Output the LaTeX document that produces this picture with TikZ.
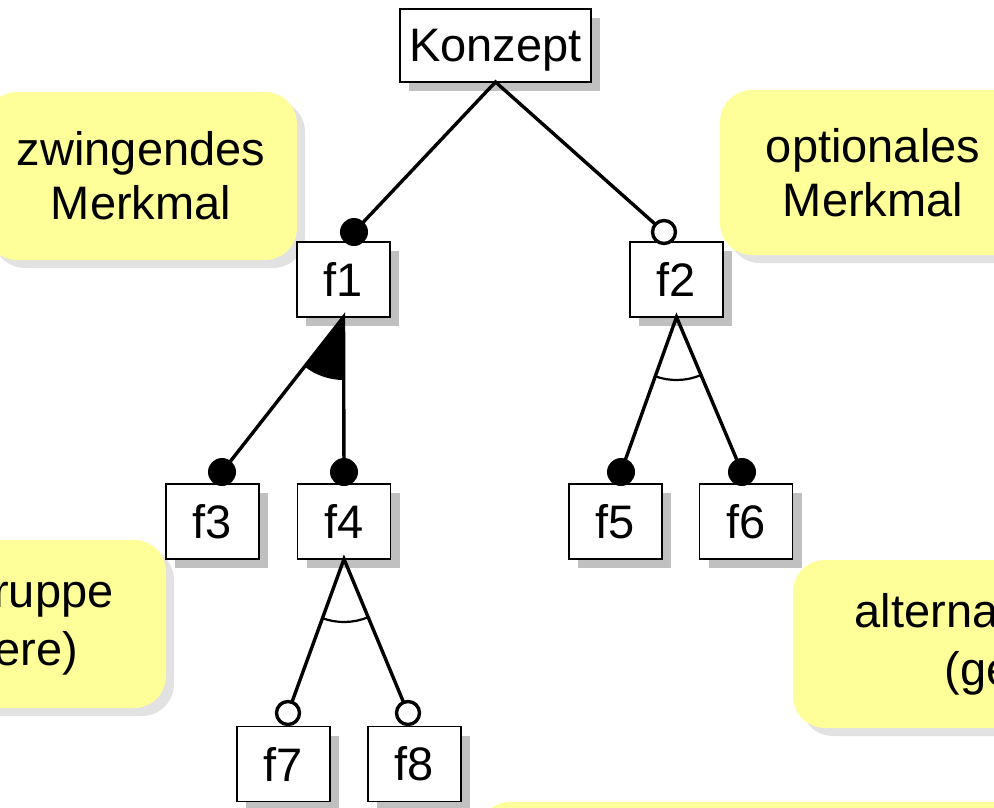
\documentclass[tikz,border=0pt]{standalone}
\usepackage{fontspec}
\setmainfont{Liberation Sans}
\usetikzlibrary{shadows,calc}
\definecolor{notefill}{HTML}{FFFF99}
\definecolor{noteshade}{HTML}{E2E2E2}
\definecolor{boxshade}{HTML}{C0C0C0}

\begin{document}
\begin{tikzpicture}[x=1pt,y=-1pt,
  every node/.style={inner sep=0pt, outer sep=0pt},
  feature/.style={draw, line width=1.2pt, fill=white,
    minimum width=93pt, minimum height=75pt,
    font=\fontsize{47pt}{54pt}\selectfont,
    drop shadow={shadow xshift=9pt, shadow yshift=-9pt, fill=boxshade, opacity=1}},
  note/.style={fill=notefill, rounded corners=32pt, align=center,
    font=\fontsize{47pt}{54pt}\selectfont,
    drop shadow={shadow xshift=8pt, shadow yshift=-8pt, fill=noteshade, opacity=1}},
  lownote/.style={note, font=\fontsize{47pt}{58pt}\selectfont},
  link/.style={line width=3.4pt},
  grouparc/.style={line width=2.2pt},
  mandatory/.style={fill=black},
  optional/.style={draw, line width=3.4pt, fill=white}
]
\useasboundingbox (0,0) rectangle (994,807);
\clip (0,0) rectangle (994,807);

% explanatory notes
\node[note, minimum width=312pt, minimum height=168pt] (nmand) at (141,176) {zwingendes\\Merkmal};
\node[note, minimum width=306pt, minimum height=165pt] (nopt) at (873,172.5) {optionales\\Merkmal};
\node[lownote, minimum width=382pt, minimum height=168pt] (nor) at (-25,624) {Oder-Gruppe\\(mehrere)};
\node[lownote, align=left, minimum width=510pt, minimum height=168pt] (nalt) at (1048,644)
  {alternative Gruppe\\\hspace*{90pt}(genau eine)};
\node[note, minimum width=644pt, minimum height=156pt] (nmore) at (800,880) {};

% feature tree
\node[feature, minimum width=191pt, minimum height=73pt, text depth=0pt] (konzept) at (495.5,45.5) {Konzept};
\node[feature] (f1) at (343.5,279.5) {f1};
\node[feature] (f2) at (676.5,279.5) {f2};
\node[feature] (f3) at (212.5,521.5) {f3};
\node[feature] (f4) at (344,521.5) {f4};
\node[feature] (f5) at (615.5,521.5) {f5};
\node[feature] (f6) at (746,521.5) {f6};
\node[feature] (f7) at (283.5,764) {f7};
\node[feature] (f8) at (414.5,764) {f8};

% connector ends (markers)
\coordinate (d1) at (354,232);
\coordinate (d2) at (664,232);
\coordinate (d3) at (222,472);
\coordinate (d4) at (344,472);
\coordinate (d5) at (621,472);
\coordinate (d6) at (742,472);
\coordinate (d7) at (288,713);
\coordinate (d8) at (408,713);

% edges
\draw[link] (d1) -- (konzept.south) -- (d2);
\draw[link] (d3) -- (f1.south) -- (d4);
\draw[link] (d5) -- (f2.south) -- (d6);
\draw[link] (d7) -- (f4.south) -- (d8);

% or-group: filled sector
\fill let \p1=($(d3)-(f1.south)$), \p2=($(d4)-(f1.south)$),
  \n1={atan2(\y1,\x1)}, \n2={atan2(\y2,\x2)} in
  (f1.south) -- ++(\n1:63pt) arc[start angle=\n1, end angle=\n2, radius=63pt] -- cycle;

% alternative groups: open arcs
\draw[grouparc] let \p1=($(d5)-(f2.south)$), \p2=($(d6)-(f2.south)$),
  \n1={atan2(\y1,\x1)}, \n2={atan2(\y2,\x2)} in
  ($(f2.south)+(\n1:63pt)$) arc[start angle=\n1, end angle=\n2, radius=63pt];
\draw[grouparc] let \p1=($(d7)-(f4.south)$), \p2=($(d8)-(f4.south)$),
  \n1={atan2(\y1,\x1)}, \n2={atan2(\y2,\x2)} in
  ($(f4.south)+(\n1:63pt)$) arc[start angle=\n1, end angle=\n2, radius=63pt];

% markers
\fill[mandatory] (d1) circle[radius=14pt];
\fill[mandatory] (d3) circle[radius=14pt];
\fill[mandatory] (d4) circle[radius=14pt];
\fill[mandatory] (d5) circle[radius=14pt];
\fill[mandatory] (d6) circle[radius=14pt];
\draw[optional] (d2) circle[radius=11.5pt];
\draw[optional] (d7) circle[radius=11.5pt];
\draw[optional] (d8) circle[radius=11.5pt];
\end{tikzpicture}
\end{document}
